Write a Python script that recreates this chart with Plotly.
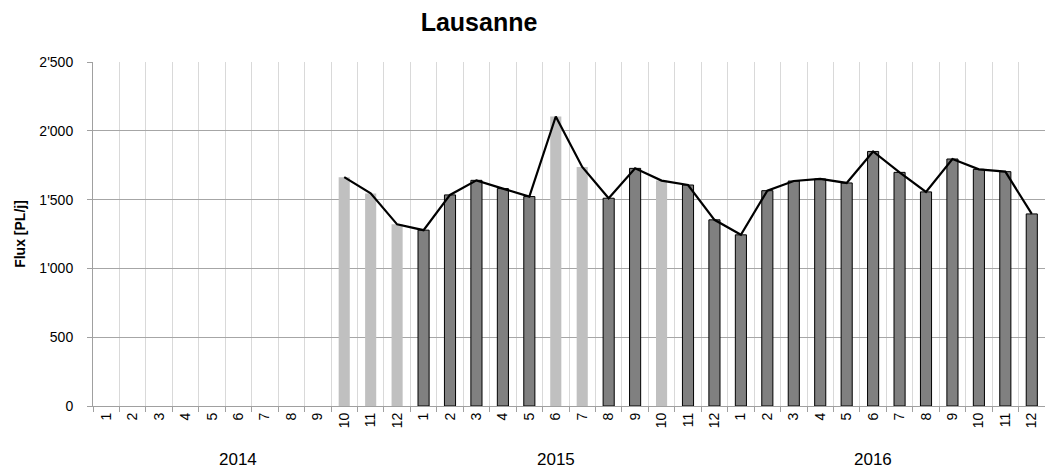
import plotly.graph_objects as go

years = ["2014", "2015", "2016"]
months = [str(m) for m in range(1, 13)]
categories = [f"{y}-{m}" for y in years for m in months]
month_labels = months * len(years)

# Daily heavy-vehicle flow per month (None = no measurement)
flux = [None, None, None, None, None, None, None, None, None,
        1663, 1545, 1320,
        1278, 1534, 1640, 1580, 1522, 2104, 1737, 1510, 1727, 1638, 1606, 1353,
        1244, 1565, 1635, 1650, 1621, 1850, 1698, 1556, 1795, 1720, 1703, 1396]

# Months with partial data shown in light grey
partial = [False] * 9 + [True, True, True,
           False, False, False, False, False, True, True, False, False, True, False, False,
           False, False, False, False, False, False, False, False, False, False, False, False]

light_vals = [v if p else None for v, p in zip(flux, partial)]
dark_vals = [None if p else v for v, p in zip(flux, partial)]

fig = go.Figure()
fig.add_trace(go.Bar(x=categories, y=light_vals,
                     marker=dict(color="#C0C0C0", line=dict(width=0)),
                     width=0.42, showlegend=False))
fig.add_trace(go.Bar(x=categories, y=dark_vals,
                     marker=dict(color="#808080", line=dict(color="black", width=1)),
                     width=0.42, showlegend=False))
fig.add_trace(go.Scatter(x=categories, y=flux, mode="lines",
                         line=dict(color="black", width=2.2),
                         connectgaps=False, showlegend=False))

# Year labels centred under each group of months
for y in years:
    fig.add_annotation(x=f"{y}-6", xref="x", y=-0.1555, yref="paper",
                       text=y, showarrow=False, xanchor="center", yanchor="middle",
                       font=dict(size=17, color="black"))

fig.update_layout(
    width=1045, height=476,
    margin=dict(l=93, r=0, t=62, b=70),
    paper_bgcolor="white", plot_bgcolor="white",
    barmode="overlay",
    separators=".'",
    font=dict(family="Liberation Sans, Arial, sans-serif", size=14, color="black"),
    title=dict(text="<b>Lausanne</b>", x=479 / 1045, xref="container", xanchor="center",
               y=1 - 22 / 476, yref="container", yanchor="middle",
               font=dict(size=25, color="black")),
)
fig.update_xaxes(
    type="category",
    categoryorder="array", categoryarray=categories,
    tickmode="array", tickvals=categories, ticktext=month_labels,
    tickson="boundaries",
    tickangle=-90,
    showgrid=True, gridcolor="#D9D9D9", gridwidth=1,
    showline=True, linecolor="#A0A0A0", linewidth=1,
    ticks="outside", ticklen=5, tickcolor="#A0A0A0",
    tickfont=dict(size=14),
)
fig.update_yaxes(
    range=[0, 2500], dtick=500, tickformat=",",
    showgrid=True, gridcolor="#A6A6A6", gridwidth=1,
    showline=True, linecolor="#A0A0A0", linewidth=1,
    ticks="outside", ticklen=5, tickcolor="#A0A0A0",
    ticklabelstandoff=11,
    zeroline=False,
    title=dict(text="<b>Flux [PL/j]</b>", font=dict(size=14), standoff=10),
    tickfont=dict(size=14),
)

fig.write_html("out.html")
